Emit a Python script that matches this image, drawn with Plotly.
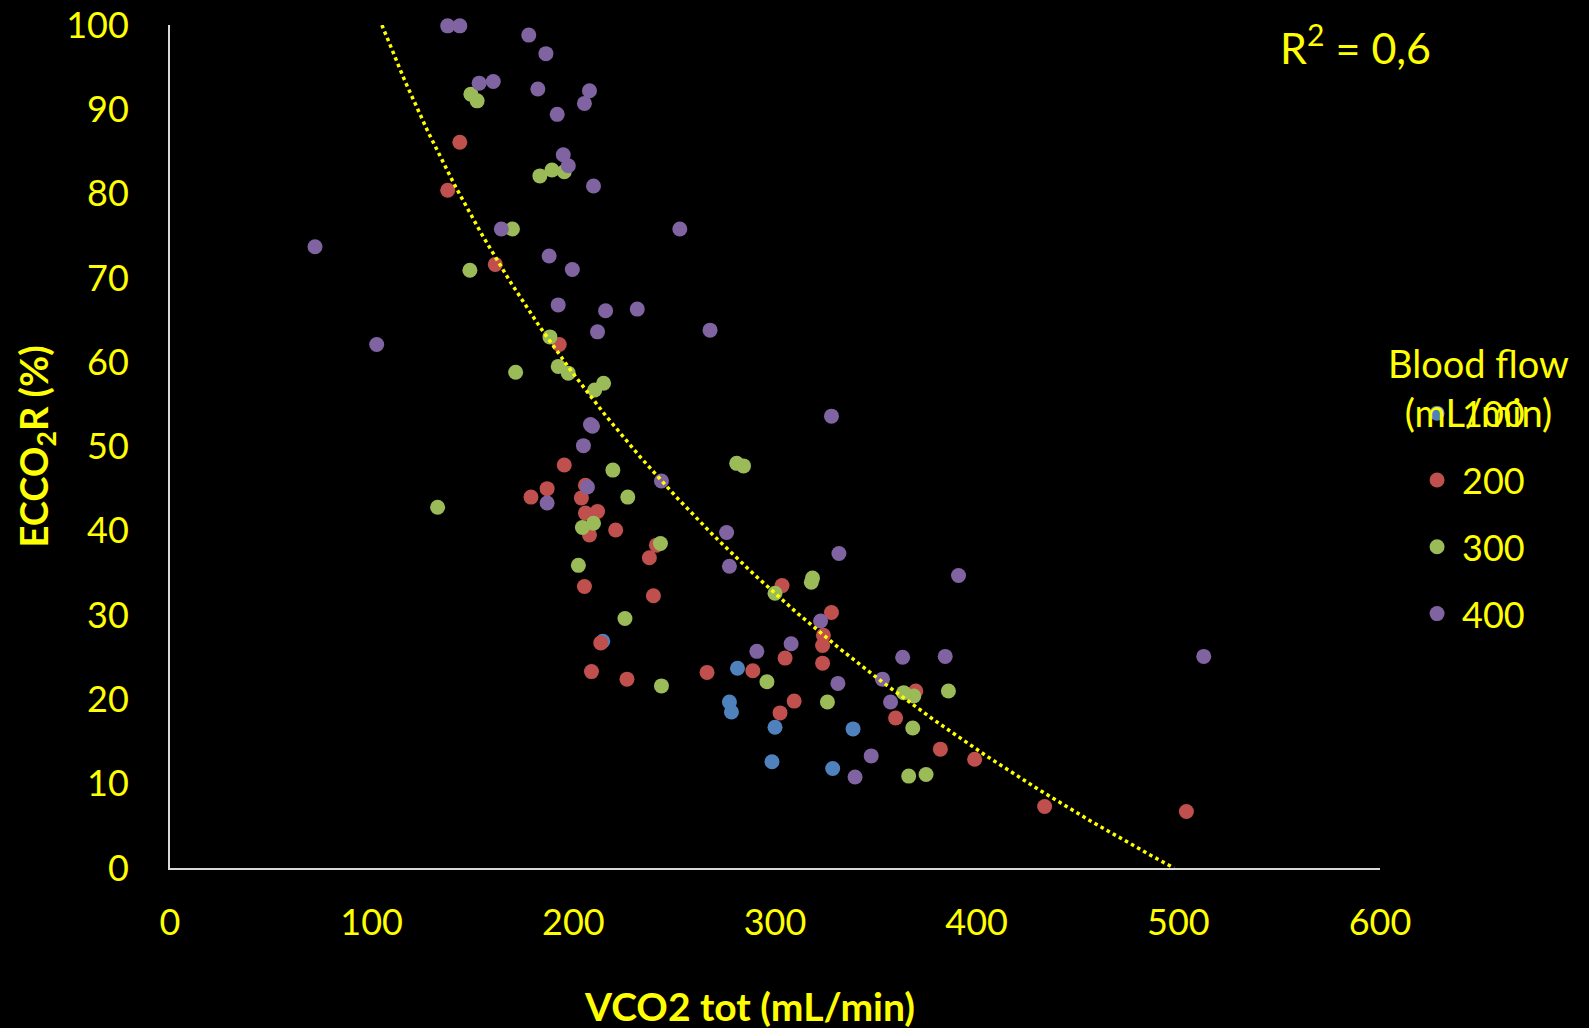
import numpy as np
import plotly.graph_objects as go

# ---- data ----
blue_x = [214.6, 281.4, 277.4, 278.4, 300.0, 338.7, 298.5, 328.6]
blue_y = [26.9, 23.7, 19.7, 18.5, 16.7, 16.5, 12.6, 11.8]

red_x = [137.7, 143.7, 161.3, 193.0, 195.5, 187.0, 179.0, 206.0, 204.0, 206.0, 212.0, 208.0,
         221.0, 241.2, 237.7, 205.5, 239.7, 303.5, 213.6, 209.0, 226.6, 266.3, 289.0, 305.0,
         309.5, 302.5, 328.0, 324.0, 323.6, 323.6, 369.8, 359.8, 382.0, 399.0, 433.7, 504.0]
red_y = [80.4, 86.1, 71.6, 62.1, 47.8, 45.0, 44.0, 45.4, 43.9, 42.1, 42.3, 39.5,
         40.1, 38.3, 36.8, 33.4, 32.3, 33.5, 26.7, 23.3, 22.4, 23.2, 23.4, 24.9,
         19.8, 18.4, 30.3, 27.6, 26.4, 24.3, 21.0, 17.8, 14.1, 12.9, 7.3, 6.7]

green_x = [132.7, 149.2, 152.3, 148.7, 169.8, 183.4, 189.4, 195.5, 188.4, 171.4, 192.5, 197.5,
           210.6, 215.0, 219.6, 227.0, 204.5, 210.0, 243.2, 202.5, 225.6, 243.7, 296.0, 281.0,
           284.4, 300.0, 318.6, 318.0, 326.0, 363.8, 368.8, 386.0, 368.3, 366.3, 374.9]
green_y = [42.8, 91.8, 91.0, 70.9, 75.8, 82.1, 82.8, 82.6, 63.0, 58.8, 59.5, 58.7,
           56.7, 57.5, 47.2, 44.0, 40.4, 40.9, 38.5, 35.9, 29.6, 21.6, 22.1, 48.0,
           47.7, 32.6, 34.4, 33.9, 19.7, 20.8, 20.4, 21.0, 16.6, 10.9, 11.1]

purple_x = [71.9, 102.5, 137.7, 143.7, 153.3, 160.3, 177.9, 186.4, 182.4, 208.0, 205.5, 192.0,
            195.0, 197.5, 210.0, 164.3, 252.8, 188.0, 199.5, 192.5, 216.0, 231.7, 212.0, 267.8,
            208.5, 209.5, 205.0, 207.0, 187.0, 243.7, 276.0, 277.4, 291.0, 308.0, 331.7, 391.0,
            322.6, 363.3, 384.4, 331.2, 353.3, 357.3, 347.7, 339.7, 328.0, 512.6]
purple_y = [73.7, 62.1, 99.9, 99.9, 93.1, 93.3, 98.8, 96.6, 92.4, 92.2, 90.7, 89.4,
            84.6, 83.3, 80.9, 75.8, 75.8, 72.6, 71.0, 66.8, 66.1, 66.3, 63.6, 63.8,
            52.6, 52.4, 50.1, 45.2, 43.3, 45.9, 39.8, 35.8, 25.7, 26.6, 37.3, 34.7,
            29.3, 25.0, 25.1, 21.9, 22.4, 19.7, 13.3, 10.8, 53.6, 25.1]

series_names = ["100", "200", "300", "400"]
series_x = [blue_x, red_x, green_x, purple_x]
series_y = [blue_y, red_y, green_y, purple_y]
series_colors = ["#4F81BD", "#C0504D", "#9BBB59", "#8064A2"]

# logarithmic trendline: y = A - B*ln(x)
TREND_A = 399.2
TREND_B = 64.28
R2_TEXT = "R<sup>2</sup> = 0,6"

x_ticks = [0, 100, 200, 300, 400, 500, 600]
y_ticks = [0, 10, 20, 30, 40, 50, 60, 70, 80, 90, 100]

YELLOW = "#FFFF00"
FONT = "Lato"

fig = go.Figure()
for name, xs, ys, col in zip(series_names, series_x, series_y, series_colors):
    fig.add_trace(go.Scatter(
        x=xs, y=ys, mode="markers", name=name, legendgroup=name,
        marker=dict(size=15, color=col, line=dict(width=0)),
        cliponaxis=False,
    ))

x_start = np.exp((TREND_A - 100) / TREND_B)
x_end = np.exp(TREND_A / TREND_B)
tx = np.linspace(x_start, x_end, 300)
ty = TREND_A - TREND_B * np.log(tx)
fig.add_trace(go.Scatter(
    x=tx, y=ty, mode="lines", showlegend=False, hoverinfo="skip",
    line=dict(color=YELLOW, width=3.5, dash="3.5px,3.5px"),
))

axis_common = dict(
    showgrid=False, zeroline=False, showline=True, linecolor="#D9D9D9", linewidth=2,
    ticks="", tickfont=dict(family=FONT, size=36, color=YELLOW), automargin=False,
)

fig.update_layout(
    width=1589, height=1028,
    paper_bgcolor="black", plot_bgcolor="black",
    margin=dict(l=170, r=209, t=25, b=160),
    font=dict(family=FONT, color=YELLOW),
    xaxis=dict(range=[0, 600], tickvals=x_ticks, ticklabelstandoff=22, **axis_common),
    yaxis=dict(range=[0, 100], tickvals=y_ticks, ticklabelstandoff=32,
               title=dict(text="<b>ECCO<sub>2</sub>R (%)</b>", font=dict(family=FONT, size=38, color=YELLOW),
                          standoff=6),
               **axis_common),
    legend=dict(
        x=1.0265, xanchor="left", y=0.575, yanchor="top",
        font=dict(family=FONT, size=36, color=YELLOW),
        bgcolor="rgba(0,0,0,0)", traceorder="grouped", tracegroupgap=17,
        itemsizing="trace", itemwidth=40,
    ),
    annotations=[
        dict(text="<b>VCO2 tot (mL/min)</b>", x=0.479, y=-0.1637, xref="paper", yref="paper",
             xanchor="center", yanchor="middle",
             showarrow=False, font=dict(family=FONT, size=39, color=YELLOW)),
        dict(text=R2_TEXT, x=0.980, y=0.9767, xref="paper", yref="paper",
             xanchor="center", yanchor="middle",
             showarrow=False, font=dict(family=FONT, size=43, color=YELLOW)),
        dict(text="Blood flow<br>(mL/min)", x=1.081, y=0.570, xref="paper", yref="paper",
             xanchor="center", yanchor="middle",
             showarrow=False, align="center", font=dict(family=FONT, size=38, color=YELLOW)),
    ],
)

fig.write_html("out.html", config={"displayModeBar": False},
               post_script="document.body.style.margin='0';document.body.style.background='black';")
